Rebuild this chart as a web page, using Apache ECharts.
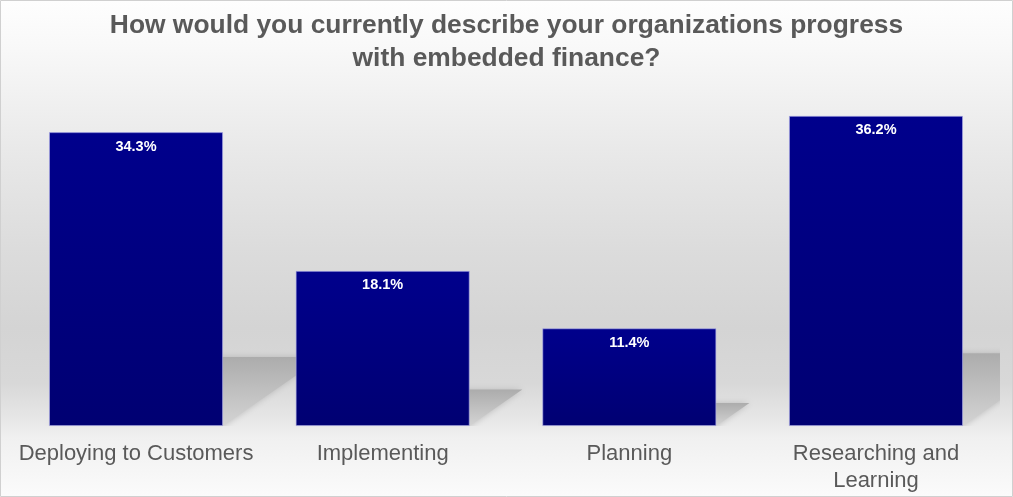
<!DOCTYPE html>
<html>
<head>
<meta charset="utf-8">
<script src="https://cdn.jsdelivr.net/npm/echarts@6/dist/echarts.min.js"></script>
<style>
html,body{margin:0;padding:0;background:#fff;}
#main{width:1013px;height:497px;}
</style>
</head>
<body>
<div id="main"></div>
<script>
var titleLines = ['How would you currently describe your organizations progress', 'with embedded finance?'];
var categories = ['Deploying to Customers', 'Implementing', 'Planning', 'Researching and\nLearning'];
var values = [34.3, 18.1, 11.4, 36.2];

var GAP = 0.295;
var chart = echarts.init(document.getElementById('main'));
var font = '"Liberation Sans", Arial, sans-serif';

chart.setOption({
  animation: false,
  graphic: [{
    type: 'rect', z: -10, silent: true,
    shape: { x: 0.5, y: 0.5, width: 1012, height: 496 },
    style: {
      fill: new echarts.graphic.LinearGradient(0, 0, 0, 1, [
        { offset: 0, color: '#fefefe' },
        { offset: 0.1, color: '#f8f8f8' },
        { offset: 0.3, color: '#e9e9e9' },
        { offset: 0.5, color: '#dcdcdc' },
        { offset: 0.66, color: '#d4d4d4' },
        { offset: 0.77, color: '#d8d8d8' },
        { offset: 0.84, color: '#e6e6e6' },
        { offset: 0.88, color: '#f0f0f0' },
        { offset: 1, color: '#fbfbfb' }
      ]),
      stroke: '#d0d0d0', lineWidth: 1
    }
  }],
  title: {
    text: titleLines.join('\n'),
    left: 'center', top: 4,
    textStyle: { fontFamily: font, fontSize: 26.4, fontWeight: 'bold', color: '#595959', lineHeight: 33 }
  },
  grid: { left: 12.7, right: 13.7, top: 83.4, bottom: 71 },
  xAxis: {
    type: 'category', data: categories,
    axisLine: { show: false }, axisTick: { show: false },
    axisLabel: { fontFamily: font, fontSize: 22, color: '#595959', margin: 14, lineHeight: 27, interval: 0 }
  },
  yAxis: { type: 'value', min: 0, max: 40, show: false, splitLine: { show: false } },
  series: [{
    type: 'custom', z: 1, clip: true, silent: true,
    data: values.map(function (v, i) { return [i, v]; }),
    encode: { x: 0, y: 1 },
    renderItem: function (params, api) {
      var idx = api.value(0);
      var top = api.coord([idx, api.value(1)]);
      var base = api.coord([idx, 0]);
      var band = api.size([1, 0])[0];
      var bw = band * (1 - GAP);
      var xr = top[0] + bw / 2;
      var xl = top[0] - bw / 2;
      var h = base[1] - top[1];
      var w = h * 0.34, hs = h * 0.235;
      var b = base[1];
      return {
        type: 'polygon',
        shape: { points: [[xl, b], [xr, b], [xr + w, b - hs], [xl + w, b - hs]] },
        style: {
          fill: new echarts.graphic.LinearGradient(0, 0, 0, 1, [
            { offset: 0, color: '#acacac' },
            { offset: 1, color: '#d4d4d4' }
          ]),
          shadowBlur: 6, shadowColor: 'rgba(170,170,170,0.7)'
        }
      };
    }
  }, {
    type: 'bar', z: 2,
    data: values,
    barCategoryGap: (GAP * 100) + '%',
    itemStyle: {
      color: new echarts.graphic.LinearGradient(0, 0, 0, 1, [
        { offset: 0, color: '#00008c' },
        { offset: 1, color: '#000072' }
      ]),
      borderColor: 'rgba(170,170,230,0.8)', borderWidth: 0.8
    },
    label: {
      show: true, position: 'insideTop', distance: 7,
      formatter: function (p) { return p.value.toFixed(1) + '%'; },
      fontFamily: font, fontSize: 14.5, fontWeight: 'bold', color: '#ffffff'
    }
  }]
});
</script>
</body>
</html>
